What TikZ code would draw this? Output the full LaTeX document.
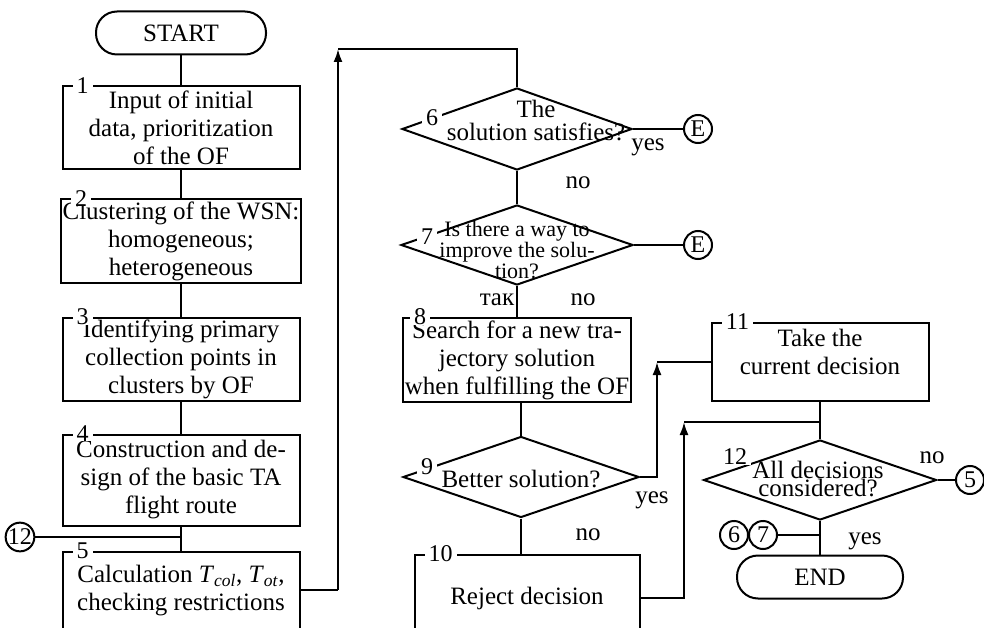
\documentclass[tikz,border=0pt]{standalone}
\usepackage{fontspec}
\setmainfont{Liberation Serif}
\usetikzlibrary{shapes.geometric,arrows.meta}

\begin{document}
\begin{tikzpicture}[x=1pt,y=-1pt,line width=2pt,
    every node/.style={font=\fontsize{25}{28}\selectfont},
    blk/.style={draw,align=center,inner sep=0pt,minimum width=237pt,minimum height=83pt},
    term/.style={draw,rounded corners=21pt,inner sep=0pt,minimum width=170pt,minimum height=43pt},
    dec/.style={draw,diamond,inner sep=0pt},
    dectext/.style={align=center,inner sep=0pt},
    num/.style={fill=white,inner xsep=4pt,inner ysep=0pt,font=\fontsize{24}{24}\selectfont},
    conn/.style={draw,circle,inner sep=0pt,minimum size=28pt,font=\fontsize{24}{24}\selectfont},
    ar/.style={-{Latex[length=13pt,width=9pt]}}]
            \useasboundingbox (0,0) rectangle (984,628);

            \node[term] (start) at (181,33) {START};
            \node[blk] (b1) at (181,128) {Input of initial\\data, prioritization\\of the OF};
            \node[blk,minimum width=240pt] (b2) at (181,241) {Clustering of the WSN:\\homogeneous;\\heterogeneous};
            \node[blk] (b3) at (181,359) {Identifying primary\\collection points in\\clusters by OF};
            \node[blk,minimum height=91pt] (b4) at (181,480) {Construction and de-\\sign of the basic TA\\flight route};
            \node[blk,minimum height=100pt] (b5) at (181,602) {Calculation \textit{T}\textsubscript{\textit{col}}, \textit{T}\textsubscript{\textit{ot}},\\checking restrictions\\\mbox{}};
            \node[conn] (c12) at (20,537) {12};

            \node[dec,minimum width=230pt,minimum height=82pt] (d6) at (517,129) {};
            \node[dec,minimum width=232pt,minimum height=80pt] (d7) at (517,245) {};
            \node[blk,minimum width=228pt,minimum height=84pt] (b8) at (517,360) {Search for a new tra-\\jectory solution\\when fulfilling the OF};
            \node[dec,minimum width=236pt,minimum height=81pt] (d9) at (521,477) {};
            \node[blk,minimum width=225pt,minimum height=86pt] (b10) at (527,598) {Reject decision};
            \node[blk,minimum width=217pt,minimum height=78pt] (b11) at (820,362) {Take the\\current decision\\[-8pt]};
            \node[dec,minimum width=233pt,minimum height=80pt] (d12) at (820,480) {};
            \node[term,minimum width=166pt] (end) at (820,577) {END};

            \node[conn] (e6) at (698,129) {E};
            \node[conn] (e7) at (698,245) {E};
            \node[conn] (c5) at (970,480) {5};
            \node[conn] (c6) at (734,535) {6};
            \node[conn] (c7) at (763,535) {7};

            \node[num] (n1) at ([xshift=21pt]b1.north west) {1};
            \node[num] (n2) at ([xshift=21pt]b2.north west) {2};
            \node[num] (n3) at ([xshift=21pt]b3.north west) {3};
            \node[num] (n4) at ([xshift=21pt]b4.north west) {4};
            \node[num] (n5) at ([xshift=21pt]b5.north west) {5};
            \node[num] (n6) at (432,118) {6};
            \node[num] (n7) at (427,237) {7};
            \node[num] (n8) at ([xshift=18pt]b8.north west) {8};
            \node[num] (n9) at (427,467) {9};
            \node[num] (n10) at ([xshift=27pt]b10.north west) {10};
            \node[num] (n11) at ([xshift=27pt]b11.north west) {11};
            \node[num] (n12) at (735,457) {12};

            \node[dectext,font=\fontsize{25}{23}\selectfont] (t6) at (536,121) {The\\solution satisfies?};
            \node[dectext,font=\fontsize{22}{17}\selectfont] (t7) at (517,250) {Is there a way to\\improve the solu-\\tion?};
            \node[dectext] (t9) at (521,479) {Better solution?};
            \node[dectext,font=\fontsize{25}{18}\selectfont] (t12) at (818,479) {All decisions\\considered?};

            \node (yes6) at (648,147) {yes};
            \node (no6) at (578,183) {no};
            \node (yes7) at (497,300) {так};
            \node (no7) at (583,300) {no};
            \node (yes9) at (652,500) {yes};
            \node (no9) at (588,535) {no};
            \node (no12) at (932,458) {no};
            \node (yes12) at (865,541) {yes};

            \draw (start) -- (b1);
            \draw (b1) -- (b2);
            \draw (b2) -- (b3);
            \draw (b3) -- (b4);
            \draw (b4) -- (b5);
            \draw (c12) -- (c12 -| b4.south);

            \coordinate (k5) at (338,590);
            \coordinate (up5) at (338,49);
            \draw (k5 -| b5.east) -- (k5);
            \draw[ar] (k5) -- (up5);
            \draw (up5) -| (d6.north);

            \draw (d6.east) -- (e6);
            \draw (d6.south) -- (d7.north);
            \draw (d7.east) -- (e7);
            \draw (d7.south) -- (d7.south |- b8.north);
            \draw (d9.north |- b8.south) -- (d9.north);

            \coordinate (j9) at (657,362);
            \draw[ar] (d9.east) -| (j9);
            \draw (j9) -- (b11.west);
            \draw (d9.south) -- (d9.south |- b10.north);

            \coordinate (j10) at (684,422);
            \draw[ar] (b10.east) -| (j10);
            \draw (j10) -- (j10 -| d12.north);
            \draw (b11.south) -- (d12.north);
            \draw (d12.east) -- (c5);
            \draw (d12.south) -- (end);
            \draw (c7) -- (c7 -| end.north);
        \end{tikzpicture}
\end{document}
